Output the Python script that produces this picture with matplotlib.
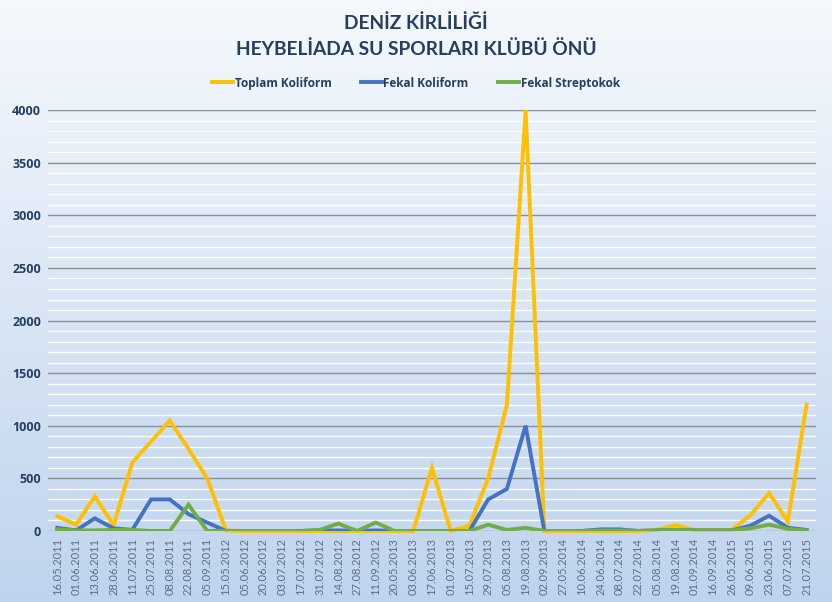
import numpy as np
import matplotlib.pyplot as plt
from matplotlib.ticker import MultipleLocator

# tarih etiketleri (x ekseni)
dates = ["16.05.2011", "01.06.2011", "13.06.2011", "28.06.2011", "11.07.2011",
         "25.07.2011", "08.08.2011", "22.08.2011", "05.09.2011", "15.05.2012",
         "05.06.2012", "20.06.2012", "03.07.2012", "17.07.2012", "31.07.2012",
         "14.08.2012", "27.08.2012", "11.09.2012", "20.05.2013", "03.06.2013",
         "17.06.2013", "01.07.2013", "15.07.2013", "29.07.2013", "05.08.2013",
         "19.08.2013", "02.09.2013", "27.05.2014", "10.06.2014", "24.06.2014",
         "08.07.2014", "22.07.2014", "05.08.2014", "19.08.2014", "01.09.2014",
         "16.09.2014", "26.05.2015", "09.06.2015", "23.06.2015", "07.07.2015",
         "21.07.2015"]

toplam_koliform = [140, 60, 330, 55, 650, 850, 1050, 780, 500, 5,
                   0, 0, 0, 0, 0, 0, 0, 0, 0, 0,
                   600, 0, 50, 500, 1200, 4000, 0, 0, 0, 0,
                   0, 0, 10, 55, 10, 10, 10, 150, 360, 90,
                   1200]
fekal_koliform = [30, 5, 120, 25, 10, 300, 300, 160, 80, 0,
                  0, 0, 0, 0, 5, 5, 0, 5, 0, 0,
                  0, 0, 0, 300, 400, 1000, 0, 0, 0, 15,
                  15, 0, 5, 10, 5, 5, 5, 50, 145, 30,
                  10]
fekal_streptokok = [15, 5, 5, 10, 10, 0, 0, 250, 0, 0,
                    0, 0, 0, 0, 10, 70, 0, 80, 0, 0,
                    0, 0, 0, 60, 10, 30, 0, 0, 0, 5,
                    5, 0, 5, 10, 5, 5, 5, 25, 60, 20,
                    5]

navy = "#243f60"

fig = plt.figure(figsize=(8.32, 6.02), dpi=100)

# arka plan gradyanı
bg = fig.add_axes([0, 0, 1, 1], zorder=-10)
grad = np.linspace(0, 1, 256).reshape(-1, 1)
top = np.array([0.96, 0.975, 0.99])
bottom = np.array([0.75, 0.83, 0.93])
img = top + (bottom - top) * grad[:, :, None]
bg.imshow(img, aspect="auto", extent=[0, 1, 0, 1])
bg.axis("off")

ax = fig.add_axes([0.0577, 0.118, 0.923, 0.699])
ax.patch.set_alpha(0)
x = np.arange(len(dates))
ax.plot(x, toplam_koliform, color="#ffc000", lw=2.8, label="Toplam Koliform",
        solid_joinstyle="miter", zorder=3, clip_on=False)
ax.plot(x, fekal_koliform, color="#4472c4", lw=2.8, label="Fekal Koliform",
        solid_joinstyle="miter", zorder=4)
ax.plot(x, fekal_streptokok, color="#70ad47", lw=2.8, label="Fekal Streptokok",
        solid_joinstyle="miter", zorder=5)

ax.set_xlim(-0.5, len(dates) - 0.5)
ax.set_ylim(0, 4000)
ax.yaxis.set_major_locator(MultipleLocator(500))
ax.yaxis.set_minor_locator(MultipleLocator(100))
ax.grid(which="minor", axis="y", color="white", lw=1.0, alpha=0.95)
ax.grid(which="major", axis="y", color="#8a8f96", lw=1.0)
ax.set_axisbelow(True)
for s in ax.spines.values():
    s.set_visible(False)

ax.set_xticks(x)
ax.set_xticklabels(dates, rotation=90, fontsize=8, color="#5d6f87",
                   family="Lato")
ax.tick_params(axis="both", which="both", length=0)
ax.tick_params(axis="y", pad=5)
for t in ax.get_yticklabels():
    t.set_fontsize(9)
    t.set_fontweight("bold")
    t.set_color(navy)
    t.set_family("Open Sans")
ax.tick_params(axis="x", pad=5)

fig.text(0.5, 0.962, "DENİZ KİRLİLİĞİ", ha="center", va="center",
         fontsize=13.8, fontweight="bold", color=navy, family="Lato")
fig.text(0.5, 0.918, "HEYBELİADA SU SPORLARI KLÜBÜ ÖNÜ", ha="center",
         va="center", fontsize=13.8, fontweight="bold", color=navy, family="Lato")

leg = fig.legend(loc="center", bbox_to_anchor=(0.5, 0.862), ncol=3, frameon=False,
                 handlelength=1.8, handletextpad=0.1, columnspacing=2.5,
                 prop={"family": "Open Sans", "weight": "bold", "size": 8.5})
for t in leg.get_texts():
    t.set_color(navy)

fig.savefig("out.png", dpi=100)
